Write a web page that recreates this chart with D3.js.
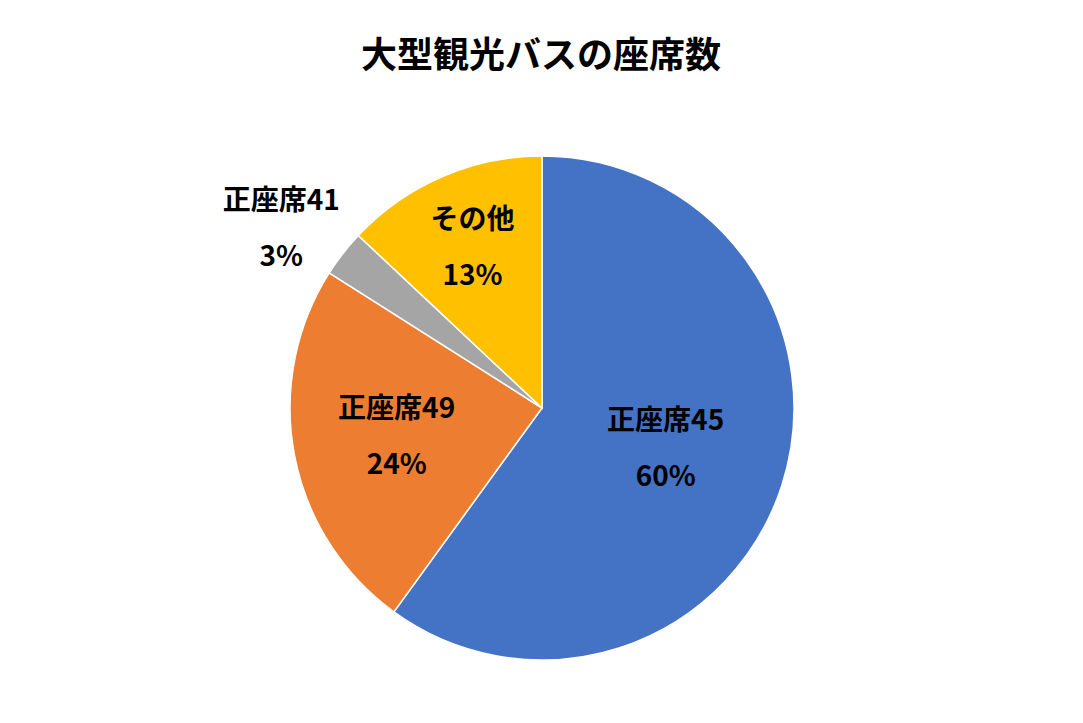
<!DOCTYPE html>
<html><head><meta charset="utf-8">
<script src="https://cdn.jsdelivr.net/npm/d3@7/dist/d3.min.js"></script>
<style>body{margin:0;background:#fff}</style></head>
<body><svg id="c" width="1083" height="723"></svg>
<script>
const categories = ["正座席45","正座席49","正座席41","その他"];
const values = [60,24,3,13];
const colors = ["#4472C4","#ED7D31","#A5A5A5","#FFC000"];
const labelRadius = [130,148,330,175];
const labelShift = [0,0,22,0];

const svg = d3.select("#c");
const font = "'Noto Sans CJK JP', sans-serif";
svg.append("text").attr("x",541).attr("y",68).attr("text-anchor","middle")
  .attr("font-family",font).attr("font-weight","bold").attr("font-size",36).text("大型観光バスの座席数");

const cx=542, cy=408, R=252;
const g = svg.append("g").attr("transform",`translate(${cx},${cy})`);
const pie = d3.pie().sort(null).value(d=>d)(values);
const arc = d3.arc().innerRadius(0).outerRadius(R);
g.selectAll("path").data(pie).join("path").attr("d",arc)
  .attr("fill",(d,i)=>colors[i]).attr("stroke","#fff").attr("stroke-width",1.5);

pie.forEach((d,i)=>{
  const la = d3.arc().innerRadius(labelRadius[i]).outerRadius(labelRadius[i]);
  const [x,y] = la.centroid(d);
  const t = g.append("text").attr("text-anchor","middle").attr("font-family",font)
    .attr("font-weight","bold").attr("font-size",28).attr("fill","#000");
  t.append("tspan").attr("x",x).attr("y",y+labelShift[i]-18).text(categories[i]);
  t.append("tspan").attr("x",x).attr("y",y+labelShift[i]+38).text(values[i]+"%");
});
</script></body></html>
